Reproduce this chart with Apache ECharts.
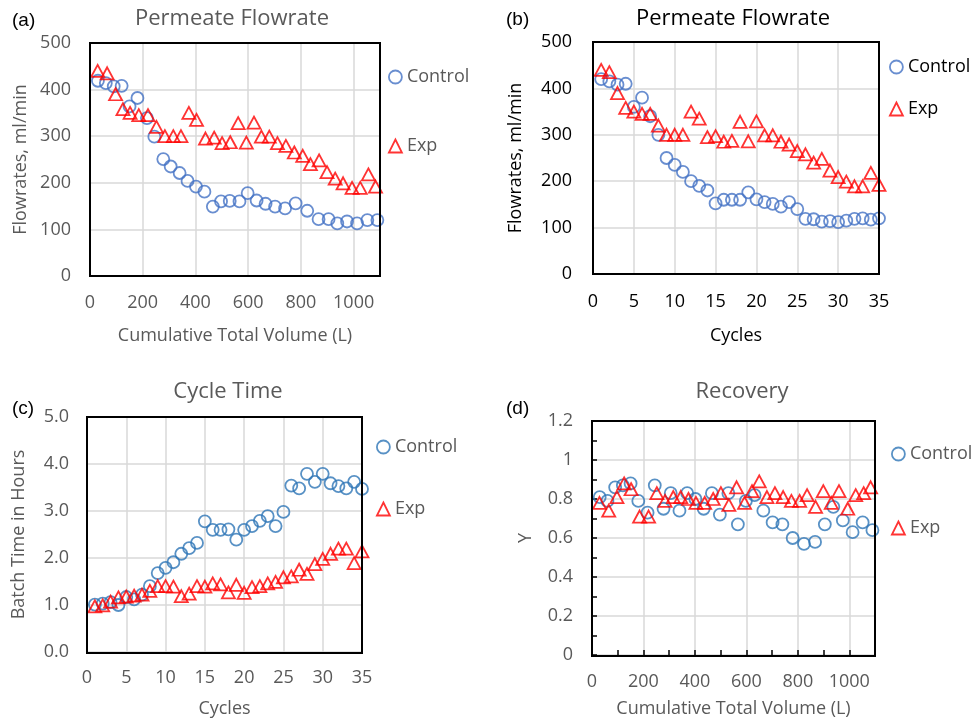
<!DOCTYPE html>
<html>
<head>
<meta charset="utf-8">
<script src="https://cdn.jsdelivr.net/npm/echarts@6/dist/echarts.min.js"></script>
<style>html,body{margin:0;padding:0;background:#fff}#c{width:973px;height:719px}</style>
</head>
<body>
<div id="c"></div>
<script>
// ---------- data ----------
const cycles = [1,2,3,4,5,6,7,8,9,10,11,12,13,14,15,16,17,18,19,20,21,22,23,24,25,26,27,28,29,30,31,32,33,34,35];

// Permeate flowrate vs cycles (panel b) and vs volume (panel a, Exp)
const flowControlCycles = [420,415,408,410,360,380,340,300,250,235,220,200,190,180,152,160,160,160,176,161,155,151,145,155,140,119,118,113,114,112,115,119,120,117,120];
const flowExp = [440,435,390,358,350,345,345,320,300,300,300,350,335,295,297,285,287,328,286,329,299,299,285,279,265,258,240,248,223,209,199,189,189,218,192];

// Cumulative volume (L)
const volExp = [29,65,97,125,152,185,220,252,284,316,345,375,404,438,471,501,532,562,593,622,650,680,711,743,775,807,836,869,899,930,960,994,1025,1056,1083];
const volControl = [30,60,90,120,150,180,216,244,278,306,340,370,402,434,466,497,530,567,598,632,666,702,740,780,824,867,905,938,975,1013,1052,1090];
const flowControlVol = [419,414,407,408,364,382,339,299,251,235,221,204,192,181,149,160,161,160,178,162,155,149,145,156,140,122,122,113,117,113,120,120];

// Cycle time (hours)
const timeControl = [1.01,1.03,1.06,1.0,1.17,1.12,1.22,1.4,1.68,1.79,1.91,2.09,2.21,2.32,2.78,2.60,2.60,2.61,2.39,2.60,2.68,2.79,2.89,2.68,2.98,3.54,3.48,3.79,3.62,3.79,3.59,3.53,3.48,3.62,3.47];
const timeExp = [0.97,0.99,1.07,1.16,1.18,1.2,1.22,1.3,1.4,1.4,1.39,1.19,1.24,1.4,1.39,1.46,1.44,1.27,1.43,1.26,1.38,1.40,1.46,1.49,1.59,1.61,1.75,1.66,1.87,1.98,2.09,2.2,2.2,1.89,2.14];

// Recovery
const recoveryControl = [0.81,0.79,0.86,0.87,0.88,0.79,0.73,0.87,0.75,0.83,0.74,0.83,0.80,0.75,0.83,0.72,0.83,0.67,0.79,0.82,0.74,0.68,0.67,0.60,0.57,0.58,0.67,0.76,0.69,0.63,0.68,0.64];
const recoveryExp = [0.78,0.74,0.81,0.88,0.85,0.71,0.71,0.83,0.79,0.81,0.81,0.80,0.78,0.78,0.80,0.83,0.77,0.86,0.78,0.84,0.89,0.81,0.83,0.81,0.79,0.79,0.82,0.76,0.84,0.78,0.84,0.75,0.82,0.83,0.86];

// ---------- styling ----------
const FONT = "'Open Sans', sans-serif";
const GRAY = '#595959';
const BLACK = '#000000';
const BLUE1 = '#4472C4';
const BLUE2 = '#2E75B6';
const RED = '#FF0000';

const grids = [
  {left:90, top:43, width:290, height:233},
  {left:593, top:42, width:286, height:232},
  {left:87, top:417, width:275, height:236},
  {left:592, top:421, width:283, height:235}
];

function pairs(xs, ys){ return xs.map((x,i)=>[x, ys[i]]); }
const plain = v => String(v);

function xAx(idx, max, interval, name, color, margin, nameGap, ticks, hideMax){
  return {
    type:'value', gridIndex:idx, min:0, max:max, interval:interval,
    axisLine:{show:false},
    axisTick:{show:!!ticks, inside:true, length:5, lineStyle:{color:'#000', width:1.5}},
    minorTick:{show:!!ticks, splitNumber:2, length:5, lineStyle:{color:'#000', width:1.5}},
    splitLine:{show:true, lineStyle:{color:'#d9d9d9', width:1.5}},
    axisLabel:{color:color, fontSize:18, fontFamily:FONT, margin:margin, showMaxLabel:!hideMax, formatter:plain},
    name:name, nameLocation:'middle', nameGap:nameGap,
    nameTextStyle:{color:color, fontSize:18, fontFamily:FONT}
  };
}
function yAx(idx, max, interval, name, color, margin, nameGap, fmt, ticks){
  return {
    type:'value', gridIndex:idx, min:0, max:max, interval:interval,
    axisLine:{show:false},
    axisTick:{show:!!ticks, inside:true, length:5, lineStyle:{color:'#000', width:1.5}},
    minorTick:{show:!!ticks, splitNumber:2, length:5, lineStyle:{color:'#000', width:1.5}},
    splitLine:{show:true, lineStyle:{color:'#d9d9d9', width:1.5}},
    axisLabel:{color:color, fontSize:18, fontFamily:FONT, margin:margin, formatter:fmt || plain},
    name:name, nameLocation:'middle', nameGap:nameGap,
    nameTextStyle:{color:color, fontSize:18, fontFamily:FONT}
  };
}

function sc(name, idx, data, blue){
  const isC = name === 'Control';
  return {
    type:'scatter', name:name, xAxisIndex:idx, yAxisIndex:idx, data:data,
    symbol: isC ? 'circle' : 'triangle',
    symbolSize: isC ? 12 : [13,12],
    itemStyle:{color:'rgba(255,255,255,0)', borderColor: isC ? blue : RED, borderWidth:1.8},
    emphasis:{disabled:true}, z:3
  };
}

function leg(left, top, gap, color, blue){
  return {
    orient:'vertical', left:left, top:top, itemGap:gap, itemWidth:13, itemHeight:13,
    padding:0, width:120,
    selectedMode:false,
    textStyle:{color:color, fontSize:18, fontFamily:FONT, lineHeight:18},
    data:[
      {name:'Control', icon:'circle', itemStyle:{color:'rgba(255,255,255,0)', borderColor:blue, borderWidth:1.8}},
      {name:'Exp', icon:'triangle', itemStyle:{color:'rgba(255,255,255,0)', borderColor:RED, borderWidth:1.8}}
    ]
  };
}

function txt(text, x, y, size, color, family, align){
  return {type:'text', x:x, y:y, z:100, silent:true,
    style:{text:text, fontSize:size, fontFamily:family, fill:color, align:align||'center', verticalAlign:'middle'}};
}
function border(g){
  return {type:'rect', z:100, silent:true, shape:{x:g.left, y:g.top, width:g.width, height:g.height},
    style:{fill:'none', stroke:'#000', lineWidth:2}};
}

const PANEL_FONT = "'Liberation Sans', Arial, sans-serif";

const option = {
  animation:false,
  backgroundColor:'#ffffff',
  grid: grids,
  xAxis:[
    xAx(0, 1100, 200, 'Cumulative Total Volume (L)', GRAY, 18, 51, false, true),
    xAx(1, 35, 5, 'Cycles', BLACK, 19, 53, false, false),
    xAx(2, 35, 5, 'Cycles', GRAY, 17, 48, false, false),
    xAx(3, 1100, 200, 'Cumulative Total Volume (L)', GRAY, 18, 45, true, true)
  ],
  yAxis:[
    yAx(0, 500, 100, 'Flowrates, ml/min', GRAY, 19, 60, null, false),
    yAx(1, 500, 100, 'Flowrates, ml/min', BLACK, 21, 68, null, false),
    yAx(2, 5, 1, 'Batch Time in Hours', GRAY, 18, 59, v => v.toFixed(1), false),
    yAx(3, 1.2, 0.2, 'Y', GRAY, 19, 57, null, true)
  ],
  legend:[
    leg(388, 68, 51, GRAY, BLUE1),
    leg(889, 58, 24, BLACK, BLUE1),
    leg(376, 438, 44, GRAY, BLUE2),
    leg(891, 445, 56, GRAY, BLUE2)
  ],
  series:[
    sc('Control', 0, pairs(volControl, flowControlVol), BLUE1),
    sc('Exp', 0, pairs(volExp, flowExp), BLUE1),
    sc('Control', 1, pairs(cycles, flowControlCycles), BLUE1),
    sc('Exp', 1, pairs(cycles, flowExp), BLUE1),
    sc('Control', 2, pairs(cycles, timeControl), BLUE2),
    sc('Exp', 2, pairs(cycles, timeExp), BLUE2),
    sc('Control', 3, pairs(volControl, recoveryControl), BLUE2),
    sc('Exp', 3, pairs(volExp, recoveryExp), BLUE2)
  ],
  graphic:[
    border(grids[0]), border(grids[1]), border(grids[2]), border(grids[3]),
    txt('Permeate Flowrate', 232, 19, 22, GRAY, FONT),
    txt('Permeate Flowrate', 733, 19, 22, BLACK, FONT),
    txt('Cycle Time', 228, 392, 22, GRAY, FONT),
    txt('Recovery', 742, 392, 22, GRAY, FONT),
    txt('(a)', 12, 21, 19, BLACK, PANEL_FONT, 'left'),
    txt('(b)', 506, 20, 19, BLACK, PANEL_FONT, 'left'),
    txt('(c)', 12, 409, 19, BLACK, PANEL_FONT, 'left'),
    txt('(d)', 506, 409, 19, BLACK, PANEL_FONT, 'left')
  ]
};

const chart = echarts.init(document.getElementById('c'), null, {renderer:'canvas'});
chart.setOption(option);
</script>
</body>
</html>
